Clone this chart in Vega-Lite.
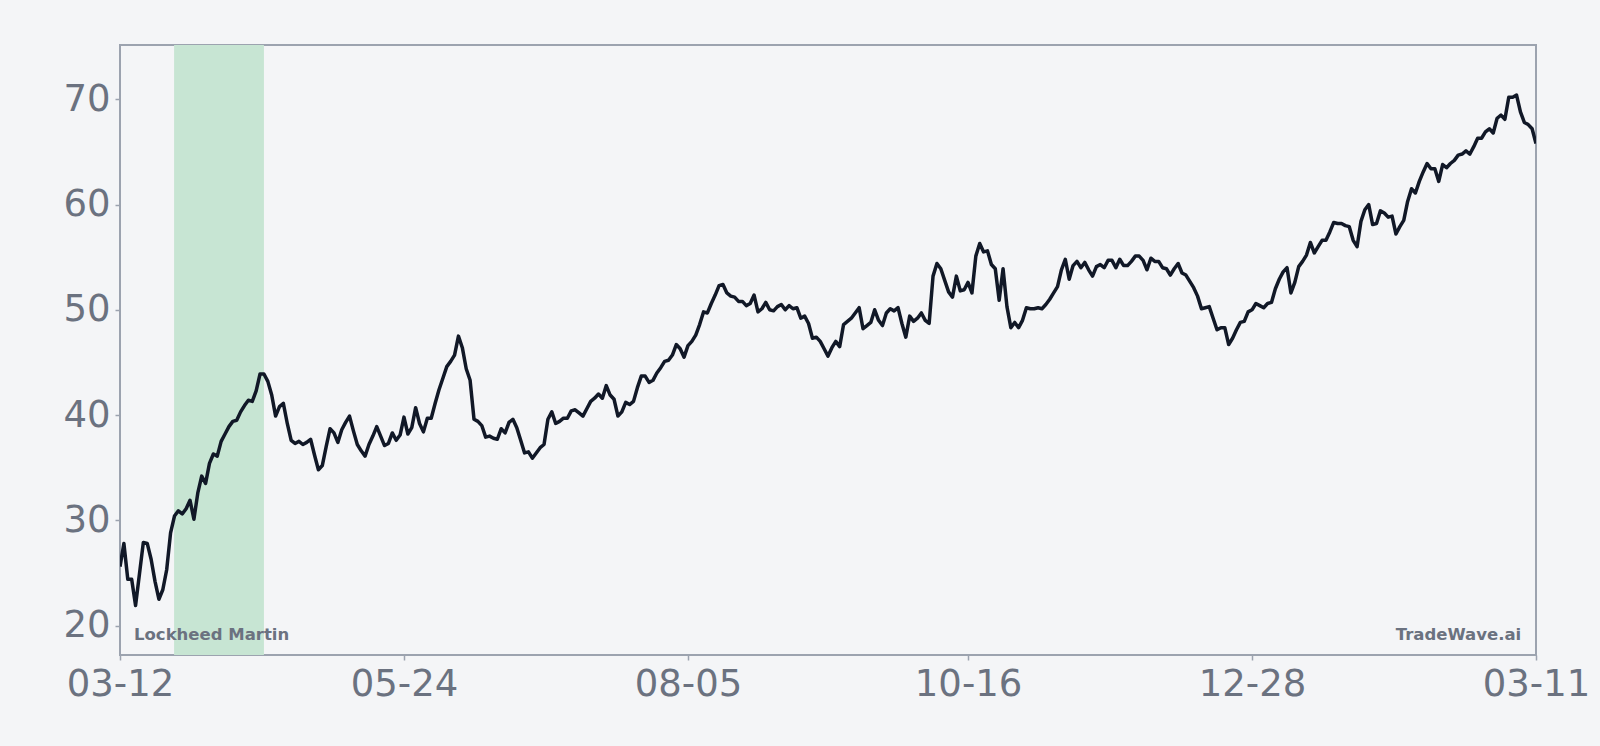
{
  "$schema": "https://vega.github.io/schema/vega-lite/v6.json",
  "autosize": {"type": "none"},
  "padding": {"left": 120, "top": 45, "right": 64, "bottom": 91},
  "width": 1416,
  "height": 610,
  "background": "#f4f5f7",
  "config": {
    "view": {"stroke": "#9ca3af", "strokeWidth": 2},
    "axis": {
      "domain": false,
      "grid": false,
      "tickColor": "#9ca3af",
      "tickSize": 5,
      "tickWidth": 1.5,
      "labelColor": "#6b7280",
      "labelFont": "DejaVu Sans",
      "labelFontSize": 37,
      "title": null
    }
  },
  "datasets": {
    "prices": [
      {"day":0,"price":25.6},{"day":1,"price":27.8},{"day":2,"price":24.4},{"day":3,"price":24.4},{"day":4,"price":21.9},
      {"day":5,"price":24.9},{"day":6,"price":27.9},{"day":7,"price":27.8},{"day":8,"price":26.3},{"day":9,"price":24.2},
      {"day":10,"price":22.5},{"day":11,"price":23.4},{"day":12,"price":25.3},{"day":13,"price":28.8},{"day":14,"price":30.4},
      {"day":15,"price":30.9},{"day":16,"price":30.6},{"day":17,"price":31.1},{"day":18,"price":31.9},{"day":19,"price":30.1},
      {"day":20,"price":32.6},{"day":21,"price":34.2},{"day":22,"price":33.5},{"day":23,"price":35.4},{"day":24,"price":36.3},
      {"day":25,"price":36.1},{"day":26,"price":37.5},{"day":27,"price":38.2},{"day":28,"price":38.9},{"day":29,"price":39.4},
      {"day":30,"price":39.5},{"day":31,"price":40.3},{"day":32,"price":40.9},{"day":33,"price":41.4},{"day":34,"price":41.3},
      {"day":35,"price":42.3},{"day":36,"price":43.9},{"day":37,"price":43.9},{"day":38,"price":43.2},{"day":39,"price":41.9},
      {"day":40,"price":39.9},{"day":41,"price":40.8},{"day":42,"price":41.1},{"day":43,"price":39.2},{"day":44,"price":37.6},
      {"day":45,"price":37.3},{"day":46,"price":37.5},{"day":47,"price":37.2},{"day":48,"price":37.4},{"day":49,"price":37.7},
      {"day":50,"price":36.2},{"day":51,"price":34.8},{"day":52,"price":35.2},{"day":53,"price":37.0},{"day":54,"price":38.7},
      {"day":55,"price":38.3},{"day":56,"price":37.4},{"day":57,"price":38.6},{"day":58,"price":39.3},{"day":59,"price":39.9},
      {"day":60,"price":38.5},{"day":61,"price":37.2},{"day":62,"price":36.6},{"day":63,"price":36.1},{"day":64,"price":37.2},
      {"day":65,"price":38.0},{"day":66,"price":38.9},{"day":67,"price":38.0},{"day":68,"price":37.1},{"day":69,"price":37.3},
      {"day":70,"price":38.3},{"day":71,"price":37.6},{"day":72,"price":38.1},{"day":73,"price":39.8},{"day":74,"price":38.2},
      {"day":75,"price":38.8},{"day":76,"price":40.7},{"day":77,"price":39.2},{"day":78,"price":38.4},{"day":79,"price":39.7},
      {"day":80,"price":39.7},{"day":81,"price":41.1},{"day":82,"price":42.4},{"day":83,"price":43.5},{"day":84,"price":44.6},
      {"day":85,"price":45.1},{"day":86,"price":45.7},{"day":87,"price":47.5},{"day":88,"price":46.4},{"day":89,"price":44.4},
      {"day":90,"price":43.3},{"day":91,"price":39.6},{"day":92,"price":39.4},{"day":93,"price":39.0},{"day":94,"price":37.9},
      {"day":95,"price":38.0},{"day":96,"price":37.8},{"day":97,"price":37.7},{"day":98,"price":38.7},{"day":99,"price":38.3},
      {"day":100,"price":39.3},{"day":101,"price":39.6},{"day":102,"price":38.8},{"day":103,"price":37.6},{"day":104,"price":36.4},
      {"day":105,"price":36.5},{"day":106,"price":35.9},{"day":107,"price":36.4},{"day":108,"price":36.9},{"day":109,"price":37.2},
      {"day":110,"price":39.6},{"day":111,"price":40.3},{"day":112,"price":39.2},{"day":113,"price":39.4},{"day":114,"price":39.7},
      {"day":115,"price":39.7},{"day":116,"price":40.4},{"day":117,"price":40.5},{"day":118,"price":40.2},{"day":119,"price":39.9},
      {"day":120,"price":40.6},{"day":121,"price":41.3},{"day":122,"price":41.6},{"day":123,"price":42.0},{"day":124,"price":41.6},
      {"day":125,"price":42.8},{"day":126,"price":41.9},{"day":127,"price":41.5},{"day":128,"price":39.9},{"day":129,"price":40.3},
      {"day":130,"price":41.2},{"day":131,"price":41.0},{"day":132,"price":41.3},{"day":133,"price":42.6},{"day":134,"price":43.7},
      {"day":135,"price":43.7},{"day":136,"price":43.1},{"day":137,"price":43.3},{"day":138,"price":44.0},{"day":139,"price":44.5},
      {"day":140,"price":45.1},{"day":141,"price":45.2},{"day":142,"price":45.7},{"day":143,"price":46.7},{"day":144,"price":46.3},
      {"day":145,"price":45.5},{"day":146,"price":46.6},{"day":147,"price":47.0},{"day":148,"price":47.6},{"day":149,"price":48.6},
      {"day":150,"price":49.8},{"day":151,"price":49.7},{"day":152,"price":50.6},{"day":153,"price":51.4},{"day":154,"price":52.3},
      {"day":155,"price":52.4},{"day":156,"price":51.6},{"day":157,"price":51.3},{"day":158,"price":51.2},{"day":159,"price":50.8},
      {"day":160,"price":50.8},{"day":161,"price":50.4},{"day":162,"price":50.6},{"day":163,"price":51.4},{"day":164,"price":49.8},
      {"day":165,"price":50.1},{"day":166,"price":50.7},{"day":167,"price":50.0},{"day":168,"price":49.9},{"day":169,"price":50.3},
      {"day":170,"price":50.5},{"day":171,"price":50.0},{"day":172,"price":50.4},{"day":173,"price":50.1},{"day":174,"price":50.2},
      {"day":175,"price":49.2},{"day":176,"price":49.4},{"day":177,"price":48.7},{"day":178,"price":47.3},{"day":179,"price":47.4},
      {"day":180,"price":47.0},{"day":181,"price":46.3},{"day":182,"price":45.6},{"day":183,"price":46.4},{"day":184,"price":47.0},
      {"day":185,"price":46.5},{"day":186,"price":48.6},{"day":187,"price":48.9},{"day":188,"price":49.2},{"day":189,"price":49.7},
      {"day":190,"price":50.2},{"day":191,"price":48.2},{"day":192,"price":48.5},{"day":193,"price":48.8},{"day":194,"price":50.0},
      {"day":195,"price":49.0},{"day":196,"price":48.5},{"day":197,"price":49.7},{"day":198,"price":50.1},{"day":199,"price":49.9},
      {"day":200,"price":50.2},{"day":201,"price":48.7},{"day":202,"price":47.4},{"day":203,"price":49.4},{"day":204,"price":48.9},
      {"day":205,"price":49.2},{"day":206,"price":49.7},{"day":207,"price":49.0},{"day":208,"price":48.7},{"day":209,"price":53.2},
      {"day":210,"price":54.4},{"day":211,"price":53.9},{"day":212,"price":52.8},{"day":213,"price":51.7},{"day":214,"price":51.2},
      {"day":215,"price":53.2},{"day":216,"price":51.8},{"day":217,"price":51.9},{"day":218,"price":52.6},{"day":219,"price":51.6},
      {"day":220,"price":55.1},{"day":221,"price":56.3},{"day":222,"price":55.5},{"day":223,"price":55.6},{"day":224,"price":54.3},
      {"day":225,"price":53.9},{"day":226,"price":50.9},{"day":227,"price":53.9},{"day":228,"price":50.3},{"day":229,"price":48.3},
      {"day":230,"price":48.8},{"day":231,"price":48.3},{"day":232,"price":49.0},{"day":233,"price":50.2},{"day":234,"price":50.1},
      {"day":235,"price":50.1},{"day":236,"price":50.2},{"day":237,"price":50.1},{"day":238,"price":50.5},{"day":239,"price":51.0},
      {"day":240,"price":51.6},{"day":241,"price":52.2},{"day":242,"price":53.8},{"day":243,"price":54.8},{"day":244,"price":52.9},
      {"day":245,"price":54.2},{"day":246,"price":54.6},{"day":247,"price":54.0},{"day":248,"price":54.5},{"day":249,"price":53.8},
      {"day":250,"price":53.2},{"day":251,"price":54.1},{"day":252,"price":54.3},{"day":253,"price":54.0},{"day":254,"price":54.7},
      {"day":255,"price":54.7},{"day":256,"price":54.0},{"day":257,"price":54.8},{"day":258,"price":54.2},{"day":259,"price":54.2},
      {"day":260,"price":54.6},{"day":261,"price":55.1},{"day":262,"price":55.1},{"day":263,"price":54.7},{"day":264,"price":53.8},
      {"day":265,"price":54.9},{"day":266,"price":54.6},{"day":267,"price":54.6},{"day":268,"price":54.0},{"day":269,"price":53.9},
      {"day":270,"price":53.3},{"day":271,"price":53.9},{"day":272,"price":54.4},{"day":273,"price":53.5},{"day":274,"price":53.3},
      {"day":275,"price":52.7},{"day":276,"price":52.1},{"day":277,"price":51.3},{"day":278,"price":50.1},{"day":279,"price":50.2},
      {"day":280,"price":50.3},{"day":281,"price":49.2},{"day":282,"price":48.1},{"day":283,"price":48.3},{"day":284,"price":48.3},
      {"day":285,"price":46.7},{"day":286,"price":47.3},{"day":287,"price":48.1},{"day":288,"price":48.8},{"day":289,"price":48.9},
      {"day":290,"price":49.8},{"day":291,"price":50.0},{"day":292,"price":50.6},{"day":293,"price":50.4},{"day":294,"price":50.2},
      {"day":295,"price":50.6},{"day":296,"price":50.7},{"day":297,"price":52.0},{"day":298,"price":52.9},{"day":299,"price":53.6},
      {"day":300,"price":54.0},{"day":301,"price":51.6},{"day":302,"price":52.6},{"day":303,"price":54.1},{"day":304,"price":54.6},
      {"day":305,"price":55.2},{"day":306,"price":56.4},{"day":307,"price":55.4},{"day":308,"price":56.0},{"day":309,"price":56.6},
      {"day":310,"price":56.6},{"day":311,"price":57.4},{"day":312,"price":58.3},{"day":313,"price":58.2},{"day":314,"price":58.2},
      {"day":315,"price":58.0},{"day":316,"price":57.9},{"day":317,"price":56.6},{"day":318,"price":56.0},{"day":319,"price":58.4},
      {"day":320,"price":59.5},{"day":321,"price":60.0},{"day":322,"price":58.1},{"day":323,"price":58.2},{"day":324,"price":59.4},
      {"day":325,"price":59.2},{"day":326,"price":58.8},{"day":327,"price":58.9},{"day":328,"price":57.2},{"day":329,"price":57.9},
      {"day":330,"price":58.5},{"day":331,"price":60.3},{"day":332,"price":61.5},{"day":333,"price":61.1},{"day":334,"price":62.2},
      {"day":335,"price":63.1},{"day":336,"price":63.9},{"day":337,"price":63.4},{"day":338,"price":63.4},{"day":339,"price":62.2},
      {"day":340,"price":63.8},{"day":341,"price":63.5},{"day":342,"price":63.9},{"day":343,"price":64.2},{"day":344,"price":64.7},
      {"day":345,"price":64.8},{"day":346,"price":65.1},{"day":347,"price":64.8},{"day":348,"price":65.5},{"day":349,"price":66.3},
      {"day":350,"price":66.3},{"day":351,"price":66.9},{"day":352,"price":67.2},{"day":353,"price":66.8},{"day":354,"price":68.2},
      {"day":355,"price":68.5},{"day":356,"price":68.1},{"day":357,"price":70.2},{"day":358,"price":70.2},{"day":359,"price":70.4},
      {"day":360,"price":68.8},{"day":361,"price":67.8},{"day":362,"price":67.6},{"day":363,"price":67.2},{"day":364,"price":65.8}
    ],
    "band": [{"start": 13.9, "end": 37.0}],
    "leftNote": [{"day": 3.6, "price": 18.6, "label": "Lockheed Martin"}],
    "rightNote": [{"day": 360.2, "price": 18.6, "label": "TradeWave.ai"}]
  },
  "layer": [
    {
      "data": {"name": "band"},
      "mark": {"type": "rect", "color": "#c7e5d3", "opacity": 1},
      "encoding": {
        "x": {"field": "start", "type": "quantitative", "scale": {"domain": [0, 364], "nice": false, "zero": false}},
        "x2": {"field": "end"}
      }
    },
    {
      "data": {"name": "prices"},
      "mark": {"type": "line", "color": "#111827", "strokeWidth": 3.5, "strokeJoin": "round", "strokeCap": "butt", "clip": true},
      "encoding": {
        "x": {
          "field": "day",
          "type": "quantitative",
          "scale": {"domain": [0, 364], "nice": false, "zero": false},
          "axis": {
            "values": [0, 73, 146, 218, 291, 364],
            "labelFlush": false,
            "labelOverlap": false,
            "labelBound": false,
            "labelPadding": 6,
            "labelExpr": "datum.value == 0 ? '03-12' : datum.value == 73 ? '05-24' : datum.value == 146 ? '08-05' : datum.value == 218 ? '10-16' : datum.value == 291 ? '12-28' : '03-11'"
          }
        },
        "y": {
          "field": "price",
          "type": "quantitative",
          "scale": {"domain": [17.2, 75.16], "nice": false, "zero": false},
          "axis": {"values": [20, 30, 40, 50, 60, 70], "labelPadding": 5}
        }
      }
    },
    {
      "data": {"name": "leftNote"},
      "mark": {"type": "text", "align": "left", "baseline": "alphabetic", "font": "DejaVu Sans", "fontWeight": "bold", "fontSize": 16.5, "color": "#6b7280"},
      "encoding": {
        "x": {"field": "day", "type": "quantitative"},
        "y": {"field": "price", "type": "quantitative"},
        "text": {"field": "label"}
      }
    },
    {
      "data": {"name": "rightNote"},
      "mark": {"type": "text", "align": "right", "baseline": "alphabetic", "font": "DejaVu Sans", "fontWeight": "bold", "fontSize": 16.5, "color": "#6b7280"},
      "encoding": {
        "x": {"field": "day", "type": "quantitative"},
        "y": {"field": "price", "type": "quantitative"},
        "text": {"field": "label"}
      }
    }
  ]
}
